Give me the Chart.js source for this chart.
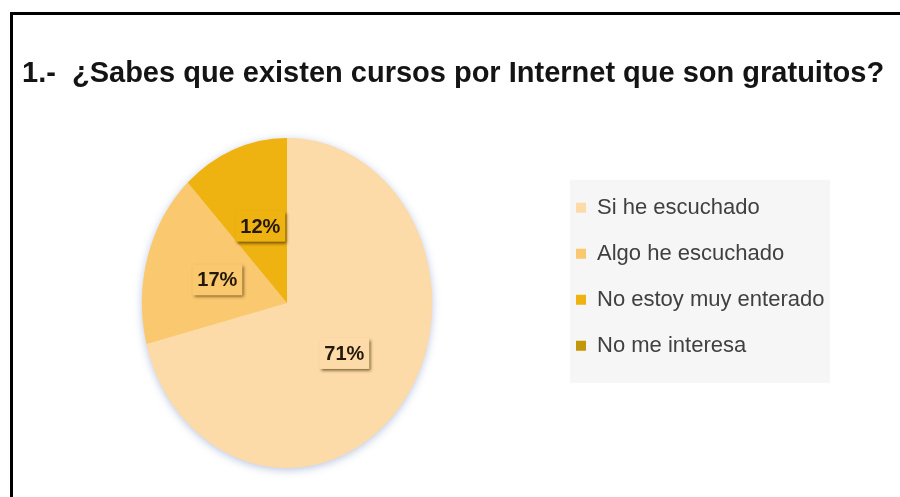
<!DOCTYPE html>
<html>
<head>
<meta charset="utf-8">
<title>Cursos gratuitos por Internet</title>
<script src="https://cdn.jsdelivr.net/npm/chart.js@4.4.0/dist/chart.umd.min.js"></script>
<style>
  html, body { margin: 0; padding: 0; background: #fff; overflow: hidden; }
  /* black frame: only top and left edges are inside the page */
  #frame {
    position: absolute; left: 10px; top: 12px; width: 1000px; height: 600px;
    border-top: 3px solid #000; border-left: 3px solid #000;
  }
  #survey { position: absolute; left: 0; top: 0; }
</style>
</head>
<body>
<div id="frame"></div>
<canvas id="survey" width="900" height="497"></canvas>
<script>
/* ===============================
   DATA
================================ */
const QUESTION = "1.-  ¿Sabes que existen cursos por Internet que son gratuitos?";
const answers = ["Si he escuchado", "Algo he escuchado", "No estoy muy enterado", "No me interesa"];
const shares = [71, 17, 12, 0]; // %
const sliceColors = ["#FDDBA8", "#FAC86E", "#EEB211", "#C4960A"];

const FONT = "'Liberation Sans', Arial, sans-serif";
const PIE_SQUASH = 0.879;  // pie is narrower than it is tall
const LEGEND_WIDTH = 338;  // reserved column on the right

/* ===============================
   PLUGINS
================================ */
// fixed-width legend column, so the pie sits left of centre
const legendColumn = {
  id: "legendColumn",
  beforeInit(chart) {
    const fit = chart.legend.fit;
    chart.legend.fit = function () {
      fit.call(this);
      this.width = LEGEND_WIDTH;
    };
  }
};

// light grey panel behind the legend
const legendPanel = {
  id: "legendPanel",
  beforeDraw(chart) {
    const lg = chart.legend;
    if (!lg) return;
    const ctx = chart.ctx;
    ctx.save();
    ctx.fillStyle = "#F6F6F6";
    ctx.fillRect(lg.left + 18, lg.top + 7, 260, 203);
    ctx.restore();
  }
};

// squash the pie horizontally, give it a soft halo, then label the slices
const ellipsePie = {
  id: "ellipsePie",
  beforeDatasetsDraw(chart) {
    const ctx = chart.ctx;
    const first = chart.getDatasetMeta(0).data[0];
    const { x, y, outerRadius } = first;
    ctx.save();
    ctx.translate(x, y);
    ctx.scale(PIE_SQUASH, 1);
    ctx.translate(-x, -y);

    ctx.save();
    ctx.shadowColor = "rgba(100,125,180,0.45)";
    ctx.shadowBlur = 9;
    ctx.shadowOffsetY = 2;
    ctx.fillStyle = sliceColors[0];
    ctx.beginPath();
    ctx.arc(x, y, outerRadius, 0, Math.PI * 2);
    ctx.fill();
    ctx.restore();
  },
  afterDatasetsDraw(chart) {
    const ctx = chart.ctx;
    ctx.restore();

    chart.getDatasetMeta(0).data.forEach((arc, i) => {
      if (!shares[i]) return;
      const c = arc.getCenterPoint();
      const lx = arc.x + (c.x - arc.x) * PIE_SQUASH;
      const ly = c.y;
      const text = shares[i] + "%";

      ctx.save();
      ctx.font = "bold 20px " + FONT;
      const w = ctx.measureText(text).width + 10;
      const h = 31;
      ctx.shadowColor = "rgba(70,45,5,0.75)";
      ctx.shadowOffsetX = 2;
      ctx.shadowOffsetY = 2;
      ctx.shadowBlur = 3;
      ctx.fillStyle = sliceColors[i];
      ctx.fillRect(lx - w / 2, ly - h / 2, w, h);
      ctx.restore();

      ctx.save();
      ctx.font = "bold 20px " + FONT;
      ctx.fillStyle = "#24180A";
      ctx.textAlign = "center";
      ctx.textBaseline = "middle";
      ctx.fillText(text, lx, ly + 1);
      ctx.restore();
    });
  }
};

/* ===============================
   CHART
================================ */
new Chart(document.getElementById("survey"), {
  type: "pie",
  data: {
    labels: answers,
    datasets: [{
      data: shares,
      backgroundColor: sliceColors,
      borderWidth: 0,
      radius: 165,
      clip: false
    }]
  },
  options: {
    responsive: false,
    animation: false,
    events: [],
    layout: { padding: { top: 0, left: 22, right: 10, bottom: 64 } },
    plugins: {
      title: {
        display: true,
        text: QUESTION,
        align: "start",
        color: "#141414",
        font: { family: FONT, size: 29, weight: "bold", lineHeight: 1.2 },
        padding: { top: 57, bottom: 81 }
      },
      legend: {
        position: "right",
        align: "start",
        fullSize: false,
        labels: {
          boxWidth: 10,
          boxHeight: 10,
          padding: 24,
          color: "#404040",
          font: { family: FONT, size: 22 }
        }
      },
      tooltip: { enabled: false }
    }
  },
  plugins: [legendColumn, legendPanel, ellipsePie]
});
</script>
</body>
</html>
